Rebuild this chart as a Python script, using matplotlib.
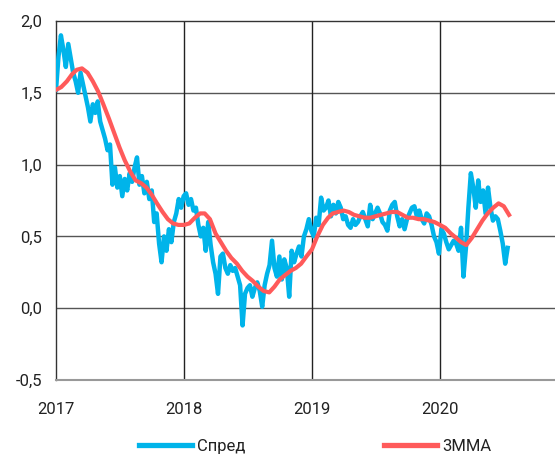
import matplotlib
matplotlib.use("Agg")
import matplotlib.pyplot as plt
import numpy as np
import pandas as pd

# Weekly spread values, by year
spread_2017 = [1.52, 1.75, 1.90, 1.80, 1.68, 1.84, 1.74, 1.64, 1.58, 1.50,
               1.64, 1.56, 1.48, 1.40, 1.30, 1.42, 1.36, 1.44, 1.30, 1.24,
               1.18, 1.10, 1.14, 0.86, 0.98, 0.84, 0.92, 0.78, 0.90, 0.82,
               0.94, 0.88, 0.98, 1.05, 0.86, 0.92, 0.80, 0.88, 0.76, 0.82,
               0.60, 0.66, 0.45, 0.32, 0.50, 0.40, 0.55, 0.46, 0.60, 0.66,
               0.76, 0.70]
spread_2018 = [0.78, 0.80, 0.72, 0.76, 0.68, 0.70, 0.58, 0.50, 0.56, 0.40,
               0.60, 0.44, 0.32, 0.24, 0.10, 0.36, 0.38, 0.28, 0.24, 0.30,
               0.26, 0.28, 0.22, 0.16, -0.12, 0.10, 0.14, 0.16, 0.08, 0.14,
               0.18, 0.12, 0.01, 0.16, 0.24, 0.30, 0.47, 0.28, 0.22, 0.36,
               0.20, 0.34, 0.28, 0.08, 0.40, 0.32, 0.38, 0.43, 0.36, 0.50,
               0.55, 0.62]
spread_2019 = [0.54, 0.50, 0.63, 0.58, 0.77, 0.68, 0.70, 0.75, 0.64, 0.72,
               0.66, 0.74, 0.70, 0.62, 0.64, 0.58, 0.56, 0.62, 0.58, 0.60,
               0.64, 0.67, 0.62, 0.57, 0.72, 0.62, 0.66, 0.70, 0.66, 0.60,
               0.58, 0.54, 0.68, 0.72, 0.74, 0.64, 0.57, 0.62, 0.55, 0.62,
               0.66, 0.70, 0.71, 0.64, 0.68, 0.62, 0.59, 0.66, 0.64, 0.58,
               0.50, 0.46]
spread_2020 = [0.38, 0.55, 0.52, 0.46, 0.41, 0.44, 0.47, 0.45, 0.40, 0.56,
               0.22, 0.42, 0.70, 0.94, 0.84, 0.70, 0.89, 0.74, 0.82, 0.66,
               0.84, 0.70, 0.61, 0.64, 0.62, 0.54, 0.45, 0.31, 0.42]

# Three-month moving average, twice a month
mma_values = [1.52, 1.54, 1.58, 1.63, 1.66, 1.67, 1.64, 1.58, 1.51, 1.42,
              1.32, 1.22, 1.12, 1.03, 0.95, 0.89, 0.87, 0.84, 0.79, 0.73,
              0.67, 0.62, 0.59, 0.58,
              0.58, 0.59, 0.63, 0.66, 0.66, 0.62, 0.52, 0.46, 0.40, 0.35,
              0.31, 0.26, 0.22, 0.19, 0.15, 0.12, 0.11, 0.15, 0.20, 0.23,
              0.26, 0.28, 0.31, 0.36,
              0.41, 0.50, 0.58, 0.63, 0.66, 0.67, 0.68, 0.67, 0.65, 0.64,
              0.63, 0.63, 0.64, 0.65, 0.66, 0.67, 0.67, 0.65, 0.63, 0.63,
              0.62, 0.62, 0.61, 0.60,
              0.58, 0.56, 0.52, 0.49, 0.46, 0.44, 0.49, 0.55, 0.61, 0.66,
              0.70, 0.73, 0.71, 0.65]

year_ticks = [2017, 2018, 2019, 2020]
y_ticks = [-0.5, 0.0, 0.5, 1.0, 1.5, 2.0]
series_labels = ["Спред", "3MMA"]

spread = spread_2017 + spread_2018 + spread_2019 + spread_2020
spread_dates = pd.date_range("2017-01-01", periods=len(spread), freq="7D")
month_starts = pd.date_range("2017-01-01", periods=len(mma_values) // 2, freq="MS")
mma_dates = []
for m in month_starts:
    mma_dates.append(m)
    mma_dates.append(m + pd.Timedelta(days=15))

plt.rcParams['font.family'] = ['Roboto', 'DejaVu Sans']

fig = plt.figure(figsize=(5.55, 4.55), dpi=100)
ax = fig.add_axes([56 / 555, 75 / 455, 499 / 555, 359 / 455])

ax.plot(spread_dates, spread, color="#00b4ea", lw=3.2, label=series_labels[0],
        solid_joinstyle="round", zorder=3)
ax.plot(mma_dates, mma_values, color="#ff5a5a", lw=3.0, label=series_labels[1],
        solid_joinstyle="round", zorder=4)

ax.set_ylim(-0.5, 2.0)
ax.set_xlim(pd.Timestamp("2017-01-01"), pd.Timestamp("2020-11-24"))
ax.set_yticks(y_ticks)
ax.set_yticklabels([f"{v:.1f}".replace(".", ",") for v in y_ticks])
ax.set_xticks([pd.Timestamp(f"{y}-01-01") for y in year_ticks])
ax.set_xticklabels([str(y) for y in year_ticks])

for y in y_ticks[1:-1]:
    ax.axhline(y, color="#555555", lw=1.0, zorder=1)
for yr in year_ticks[1:]:
    ax.axvline(pd.Timestamp(f"{yr}-01-01"), color="#222222", lw=1.0, zorder=1)

ax.tick_params(axis="both", length=0, labelsize=12, colors="#222222")
ax.tick_params(axis="x", pad=16)
ax.tick_params(axis="y", pad=10)
ax.spines["right"].set_visible(False)
ax.spines["left"].set_color("#333333")
ax.spines["top"].set_color("#333333")
ax.spines["bottom"].set_color("#999999")
ax.spines["bottom"].set_linewidth(1.5)
for s in ["left", "top"]:
    ax.spines[s].set_linewidth(1.0)

leg = fig.legend(loc="center", bbox_to_anchor=(0.568, 0.018), ncol=2, frameon=False,
                 fontsize=12, handlelength=3.2, handletextpad=0.3, columnspacing=8.3,
                 labelcolor="#222222")
for line in leg.get_lines():
    line.set_linewidth(3.8)

fig.savefig("out.png", dpi=100)
